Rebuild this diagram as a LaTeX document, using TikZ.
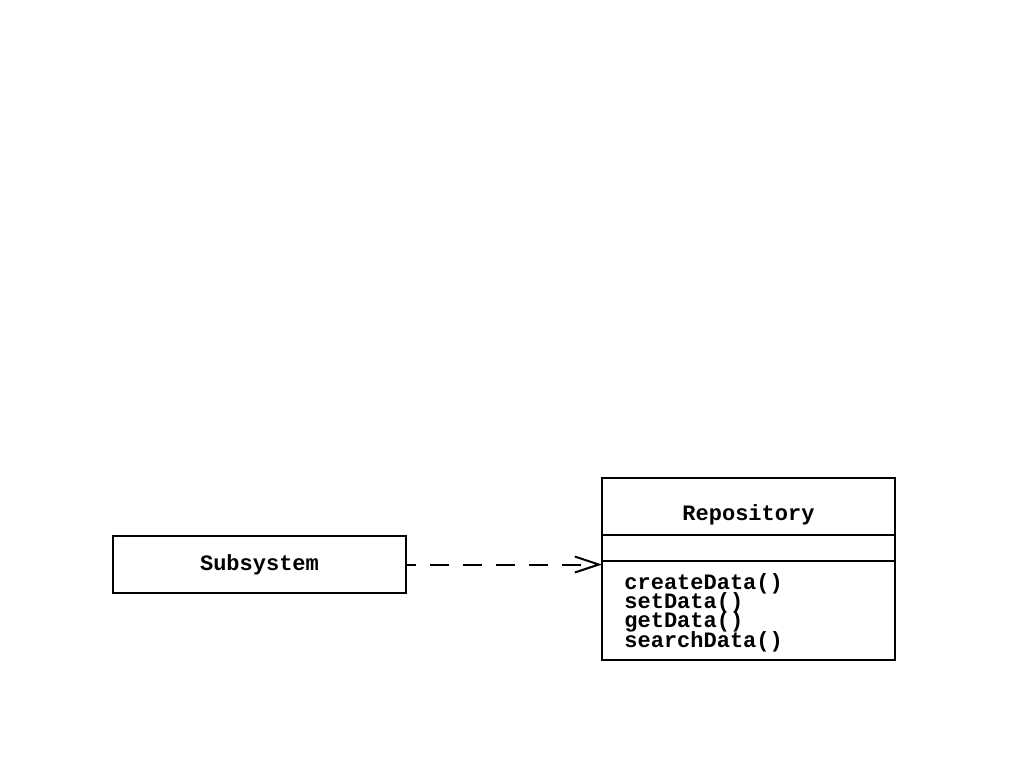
\documentclass[tikz,border=0pt]{standalone}
\usepackage{fontspec}
\setmonofont{Liberation Mono}
\usetikzlibrary{arrows.meta,positioning}
\tikzset{
    umlbox/.style={draw, line width=1pt, minimum width=146.5pt, inner sep=0pt, outer sep=0pt},
    umltext/.style={font=\ttfamily\bfseries\fontsize{11}{9.7}\selectfont, inner sep=0pt},
    depend/.style={line width=1pt, dash pattern=on 9.5pt off 7pt, dash phase=4.5pt,
        -{Straight Barb[length=12pt,width=8pt,line width=1pt]}},
}
\begin{document}
\begin{tikzpicture}[x=0.5pt,y=-0.5pt]
\useasboundingbox (0,0) rectangle (1024,768);
% client
\node[umlbox, minimum height=28.5pt, umltext] (subsys) at (259.5,564.5) {Subsystem};
% repository class: name, attributes, operations
\node[umlbox, minimum height=28.5pt] (repo) at (748.5,506.5) {};
\node[umlbox, minimum height=13pt, below=0pt of repo] (repoattr) {};
\node[umlbox, minimum height=49.5pt, below=0pt of repoattr] (repoops) {};
\node[umltext, anchor=base] (reponame) at ([yshift=-6.75pt]repo.center) {Repository};
\foreach \op [count=\i] in {createData(), setData(), getData(), searchData()}
    \node[umltext, anchor=base west] (op\i) at ([xshift=11pt, yshift={-14pt-(\i-1)*9.7pt}]repoops.north west) {\op};
% dependency
\draw[depend] (subsys.east) -- (subsys.east -| repoops.west);
\end{tikzpicture}
\end{document}
